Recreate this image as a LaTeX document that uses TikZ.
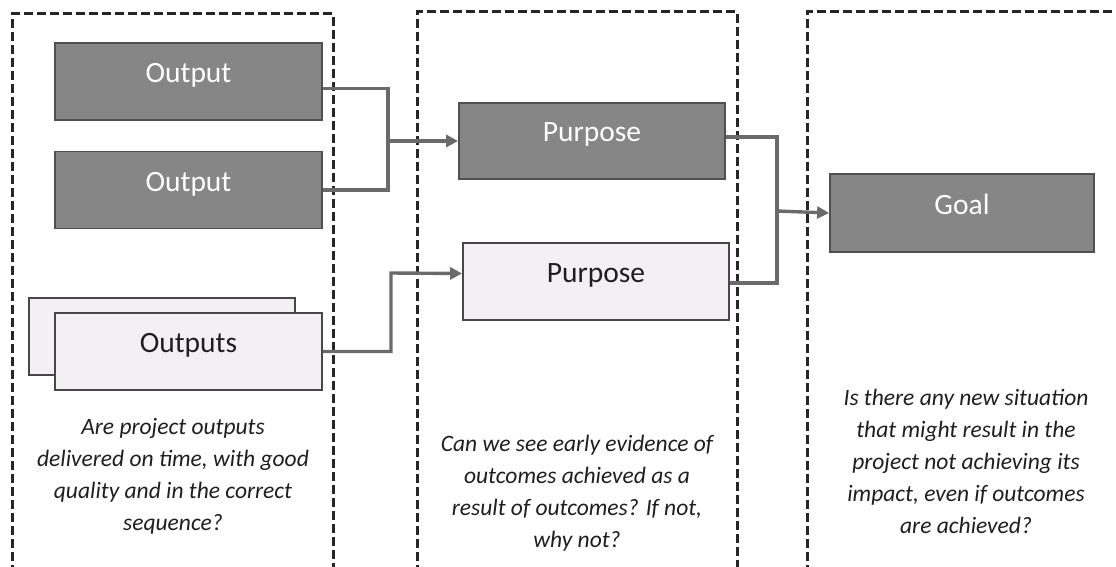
\documentclass[tikz,border=0pt]{standalone}
\usepackage{fontspec}
\setmainfont{Carlito}
\usetikzlibrary{arrows.meta}
\definecolor{darkfill}{HTML}{868686}
\definecolor{darkline}{HTML}{505050}
\definecolor{lightfill}{HTML}{F3F0F4}
\definecolor{lightline}{HTML}{474747}
\definecolor{connc}{HTML}{6A6A6A}
\tikzset{
  boxbase/.style={line width=1.8pt, minimum width=#1, minimum height=77pt, inner sep=0pt, text height=18pt, text depth=16pt, font=\fontsize{29.5}{32}\selectfont},
  darkbox/.style={boxbase=#1, draw=darkline, fill=darkfill, text=white},
  lightbox/.style={boxbase=#1, draw=lightline, fill=lightfill, text=black!88},
  frame/.style={draw=black!85, line width=3pt, dash pattern=on 9pt off 4pt},
  conn/.style={draw=connc, line width=3.4pt},
  arr/.style={conn, -{Triangle[length=12pt,width=12pt]}},
  question/.style={align=center, text=black!88, font=\fontsize{23.5}{32}\selectfont\itshape}
}
\begin{document}
\begin{tikzpicture}[x=1pt,y=-1pt]
\useasboundingbox (0,0) rectangle (1116,567);
\clip (0,0) rectangle (1116,567);
\fill[white] (0,0) rectangle (1116,567);
% dashed frames (open at the bottom / right)
\draw[frame] (12,600) -- (12,14) -- (333,14) -- (333,600);
\draw[frame] (417,600) -- (417,12) -- (737,12) -- (737,600);
\draw[frame] (807,600) -- (807,12) -- (1140,12);
% boxes
\node[darkbox=267pt] (out1) at (188.5,81.5) {Output};
\node[darkbox=267pt] (out2) at (188.5,190) {Output};
\node[lightbox=266pt] (outsB) at (162,336.5) {};
\node[lightbox=267pt] (outsF) at (188.5,351.5) {Outputs};
\node[darkbox=266pt, minimum height=76pt] (pur1) at (592,141) {Purpose};
\node[lightbox=266pt] (pur2) at (596,281.5) {Purpose};
\node[darkbox=264pt, minimum height=78pt] (goal) at (962,213) {Goal};
% junctions
\coordinate (jL) at (388,141);
\coordinate (jL2) at (391,273);
\coordinate (jR) at (777,211);
% connectors
\draw[conn] ([yshift=-7pt]out1.east) -| (jL) |- (out2.east);
\draw[arr] (jL) -- (pur1.west);
\draw[arr] (outsF.east) -| (jL2) -- ([yshift=8pt]pur2.west);
\draw[conn] ([yshift=4pt]pur1.east) -| (jR) |- ([yshift=-1.5pt]pur2.east);
\draw[arr] (jR) -- (goal.west);
% questions
\node[question] (q1) at (173,476) {Are project outputs\\delivered on time, with good\\quality and in the correct\\sequence?};
\node[question] (q2) at (577,493) {Can we see early evidence of\\outcomes achieved as a\\result of outcomes? If not,\\why not?};
\node[question] (q3) at (966,461) {Is there any new situation\\that might result in the\\project not achieving its\\impact, even if outcomes\\are achieved?};
\end{tikzpicture}
\end{document}
